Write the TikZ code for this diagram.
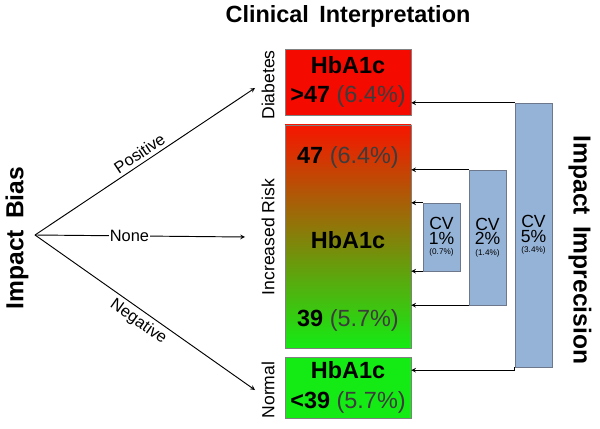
\documentclass[tikz,border=0pt]{standalone}
\usepackage{fontspec}
\setmainfont{Liberation Sans}
\usetikzlibrary{positioning}
\definecolor{cvblue}{RGB}{149,179,215}
\definecolor{cvedge}{RGB}{110,120,140}
\definecolor{redbox}{RGB}{245,10,0}
\definecolor{orangemid}{RGB}{200,150,0}
\definecolor{greenbox}{RGB}{20,235,20}
\definecolor{valgray}{RGB}{60,60,60}
\tikzset{
  catbox/.style={draw=gray, inner sep=0pt},
  cvbox/.style={draw=cvedge, fill=cvblue, inner sep=0pt},
  side/.style={rotate=90, font=\fontsize{15}{16}\selectfont},
  bias/.style={font=\fontsize{14}{15}\selectfont, inner sep=1pt},
  arr/.style={->, >=stealth, thick}
}
\newcommand{\pct}[1]{{\color{valgray}\mdseries(#1)}}
\begin{document}
\begin{tikzpicture}[x=0.03cm, y=-0.03cm]
\useasboundingbox (0,0) rectangle (600,429);

% category boxes
\node [catbox, fill=redbox, minimum width=3.78cm, minimum height=1.98cm, align=center,
  font=\bfseries\fontsize{20}{25}\selectfont] (diab) at (348,82) {HbA1c\\>47 \pct{6.4\%}};
\shade [top color=redbox!90!orange, middle color=orangemid, bottom color=greenbox] (285,125) rectangle (411,348);
\node [catbox, minimum width=3.78cm, minimum height=6.69cm] (risk) at (348,236.5) {};
\node [font=\bfseries\fontsize{20}{24}\selectfont] (upper) at (348,157) {47 \pct{6.4\%}};
\node [font=\bfseries\fontsize{20}{24}\selectfont] (mid) at (348,240) {HbA1c};
\node [font=\bfseries\fontsize{20}{24}\selectfont] (lower) at (348,320) {39 \pct{5.7\%}};
\node [catbox, fill=greenbox, minimum width=3.78cm, minimum height=1.83cm, align=center,
  font=\bfseries\fontsize{20}{25}\selectfont] (norm) at (348,387.5) {HbA1c\\<39 \pct{5.7\%}};

% side labels
\node [side] (ldiab) at (268,85) {Diabetes};
\node [side] (lrisk) at (268,237) {Increased Risk};
\node [side] (lnorm) at (268,390) {Normal};

% imprecision boxes
\node [cvbox, minimum width=1.11cm, minimum height=2.04cm, align=center] (cv1) at (441.5,237)
  {\fontsize{15}{15}\selectfont CV\\\fontsize{15}{15}\selectfont 1\%\\[-3pt]\fontsize{7}{8}\selectfont (0.7\%)};
\node [cvbox, minimum width=1.11cm, minimum height=4.05cm, align=center] (cv2) at (487.5,237.5)
  {\fontsize{15}{15}\selectfont CV\\\fontsize{15}{15}\selectfont 2\%\\[-3pt]\fontsize{7}{8}\selectfont (1.4\%)};
\node [cvbox, minimum width=1.11cm, minimum height=7.92cm, align=center] (cv5) at (533.5,235)
  {\fontsize{15}{15}\selectfont CV\\\fontsize{15}{15}\selectfont 5\%\\[-3pt]\fontsize{7}{8}\selectfont (3.4\%)};

\draw [arr] (cv1.north west) -- (cv1.north west -| risk.east);
\draw [arr] (cv1.south west) -- (cv1.south west -| risk.east);
\draw [arr] (cv2.north west) -- (cv2.north west -| risk.east);
\draw [arr] (cv2.south west) -- (cv2.south west -| risk.east);
\draw [arr] (cv5.north west) -- (cv5.north west -| diab.east);
\draw [thick] (cv5.south west) -- ++(0,3) coordinate (cvlow);
\draw [arr] (cvlow) -- (cvlow -| norm.east);

% titles
\node [font=\bfseries\fontsize{20}{22}\selectfont] (title) at (348,16) {Clinical\, Interpretation};
\node [rotate=-90, font=\bfseries\fontsize{21}{23}\selectfont] (imprec) at (580,250) {Impact\, Imprecision};
\node [rotate=90, font=\bfseries\fontsize{21}{23}\selectfont] (biastitle) at (17,238) {Impact\, Bias};

% bias arrows
\coordinate (origin) at (35,235);
\draw [arr] (origin) -- node [bias, sloped, above=2pt] {Positive} (255,88);
\draw [arr] (origin) -- node [bias, fill=white, pos=0.45] {None} (245,237);
\draw [arr] (origin) -- node [bias, sloped, below=2pt] {Negative} (255,390);
\end{tikzpicture}
\end{document}
